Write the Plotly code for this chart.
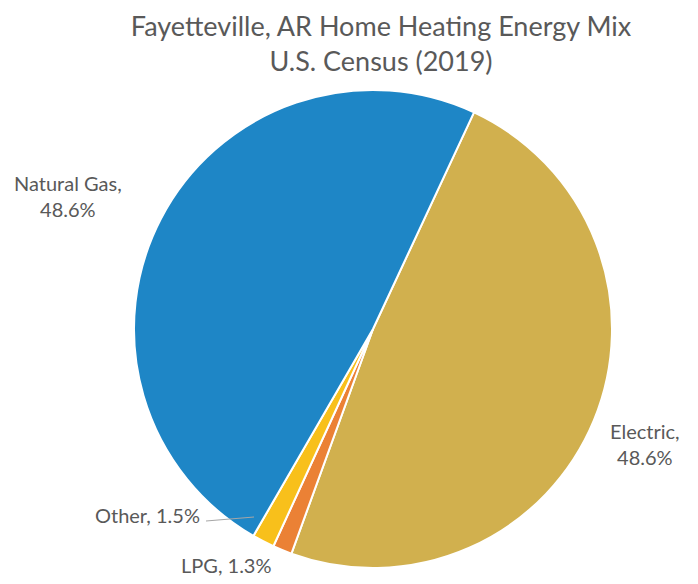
import plotly.graph_objects as go

# Home heating fuel shares (percent), clockwise from the top
labels = ["Electric", "LPG", "Other", "Natural Gas"]
shares = [48.6, 1.3, 1.5, 48.6]
colors = ["#D1B04E", "#EB8135", "#F8C01B", "#1E86C6"]

# the page body keeps its default 8px margin, so size the figure to fit the window
PAD = 8
W, H = 698 - 2 * PAD, 584 - 2 * PAD
TEXT = "#595959"
FONT = "Lato, 'Open Sans', sans-serif"


def px(x):
    return (x - PAD) / W


def py(y):
    return 1 - (y - PAD) / H


fig = go.Figure()
fig.add_trace(go.Pie(
    labels=labels,
    values=shares,
    sort=False,
    direction="clockwise",
    rotation=25,
    textinfo="none",
    hoverinfo="label+percent",
    marker=dict(colors=colors, line=dict(color="white", width=2)),
    domain=dict(x=[px(133), px(613)], y=[py(568), py(90)]),
    showlegend=False,
))


def pct(name):
    return f"{shares[labels.index(name)]:.1f}%"


# outside data labels, placed like the original
notes = [
    (f"Natural Gas,<br>{pct('Natural Gas')}", 68, 196, "center"),
    (f"Electric,<br>{pct('Electric')}", 645, 444, "center"),
    (f"Other, {pct('Other')}", 202, 515, "right"),
    (f"LPG, {pct('LPG')}", 226, 565, "center"),
]
for txt, x, y, align in notes:
    fig.add_annotation(
        x=px(x), y=py(y), xref="paper", yref="paper",
        text=txt, showarrow=False, align=align,
        xanchor=align, yanchor="middle",
        font=dict(size=20, color=TEXT, family=FONT),
    )

# leader line for the small "Other" slice
fig.add_shape(
    type="line", xref="paper", yref="paper",
    x0=px(206), y0=py(521), x1=px(254), y1=py(517),
    line=dict(color="#A6A6A6", width=1),
)

fig.update_layout(
    width=W, height=H,
    margin=dict(l=0, r=0, t=0, b=0),
    paper_bgcolor="white",
    plot_bgcolor="white",
    title=dict(
        text="Fayetteville, AR Home Heating Energy Mix<br>U.S. Census (2019)",
        x=px(381), xanchor="center", y=py(36), yanchor="middle",
        font=dict(size=27, color=TEXT, family=FONT),
    ),
)

fig.write_html("out.html")
